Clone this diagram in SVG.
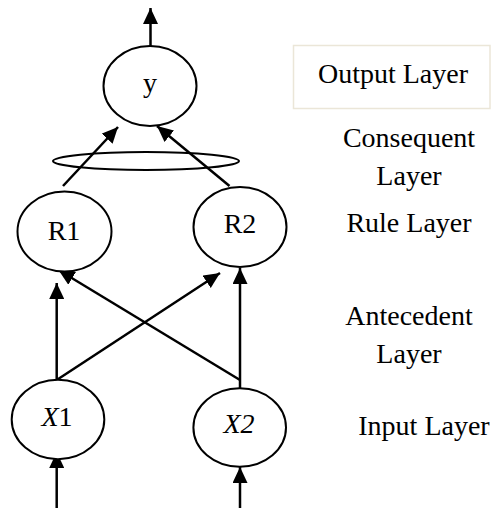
<svg xmlns="http://www.w3.org/2000/svg" width="498" height="510" viewBox="0 0 498 510">
<style>
.node{fill:#fff;stroke:#000;stroke-width:2}
.conn{stroke:#000;stroke-width:2.5;fill:none;marker-end:url(#ah)}
text{font-family:"Liberation Serif","Times New Roman",serif;font-size:28px;fill:#000;text-anchor:middle}
.it{font-style:italic}
</style>
<defs>
<marker id="ah" markerUnits="userSpaceOnUse" markerWidth="16" markerHeight="15" refX="16" refY="7.5" orient="auto">
<path d="M0,0 L16,7.5 L0,15 z" fill="#000"/>
</marker>
</defs>
<rect width="498" height="510" fill="#fff"/>
<g id="output-label">
<rect x="293.5" y="45.5" width="196.5" height="63" fill="#fff" stroke="#ebe6d8" stroke-width="1.5"/>
<text x="393" y="83">Output Layer</text>
</g>
<g id="consequent-label"><text x="409" y="147">Consequent</text><text x="409" y="185">Layer</text></g>
<g id="rule-label"><text x="409" y="232">Rule Layer</text></g>
<g id="antecedent-label"><text x="409" y="325">Antecedent</text><text x="409" y="363">Layer</text></g>
<g id="input-label"><text x="424" y="435">Input Layer</text></g>
<g id="connectors">
<line class="conn" x1="150.5" y1="46" x2="150.5" y2="8"/>
<line class="conn" x1="63" y1="186" x2="118" y2="127"/>
<line class="conn" x1="229.5" y1="186" x2="157" y2="126"/>
<line class="conn" x1="56.7" y1="380" x2="56.7" y2="283"/>
<line class="conn" x1="56.7" y1="380" x2="220" y2="273"/>
<line class="conn" x1="240" y1="380" x2="58.5" y2="270"/>
<line class="conn" x1="240" y1="390" x2="240" y2="268"/>
<line class="conn" x1="56.7" y1="508" x2="56.7" y2="452"/>
<line class="conn" x1="240" y1="508" x2="240" y2="467"/>
</g>
<g id="consequent"><ellipse class="node" cx="146" cy="161" rx="93" ry="9" fill="none" style="fill:none"/></g>
<g id="y"><ellipse class="node" cx="150" cy="86" rx="46.5" ry="40"/><text x="150" y="92">y</text></g>
<g id="R1"><ellipse class="node" cx="64.5" cy="231.5" rx="47" ry="40"/><text x="64" y="240">R1</text></g>
<g id="R2"><ellipse class="node" cx="240" cy="227" rx="46.5" ry="40"/><text x="240" y="233">R2</text></g>
<g id="X1"><ellipse class="node" cx="58" cy="419.5" rx="46.3" ry="39.7"/><text x="57" y="426"><tspan class="it">X</tspan>1</text></g>
<g id="X2"><ellipse class="node" cx="239.7" cy="427.5" rx="46.3" ry="39.2"/><text x="239" y="433" class="it">X2</text></g>
</svg>
